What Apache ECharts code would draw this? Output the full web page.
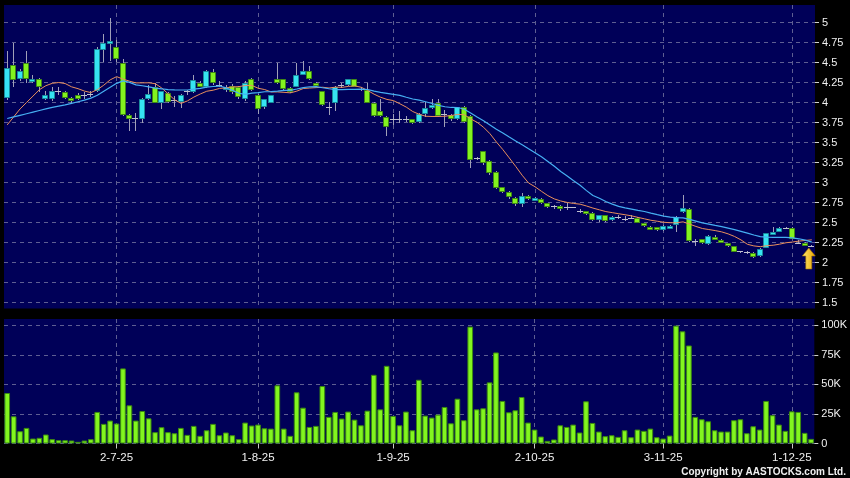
<!DOCTYPE html>
<html>
<head>
<meta charset="utf-8">
<script src="https://cdn.jsdelivr.net/npm/echarts@6/dist/echarts.min.js"></script>
<style>
html,body{margin:0;padding:0;background:#000;}
#chart{width:850px;height:478px;}
</style>
</head>
<body>
<div id="chart"></div>
<script>
const dates = [
"6-6-25","9-6-25","10-6-25","11-6-25","12-6-25","13-6-25","16-6-25","17-6-25","18-6-25","19-6-25","20-6-25","23-6-25","24-6-25","25-6-25","26-6-25","27-6-25","30-6-25",
"2-7-25","3-7-25","4-7-25","7-7-25","8-7-25","9-7-25","10-7-25","11-7-25","14-7-25","15-7-25","16-7-25","17-7-25","18-7-25","21-7-25","22-7-25","23-7-25","24-7-25","25-7-25","28-7-25","29-7-25","30-7-25","31-7-25",
"1-8-25","4-8-25","5-8-25","6-8-25","7-8-25","8-8-25","11-8-25","12-8-25","13-8-25","14-8-25","15-8-25","18-8-25","19-8-25","20-8-25","21-8-25","22-8-25","25-8-25","26-8-25","27-8-25","28-8-25","29-8-25",
"1-9-25","2-9-25","3-9-25","4-9-25","5-9-25","8-9-25","9-9-25","10-9-25","11-9-25","12-9-25","15-9-25","16-9-25","17-9-25","18-9-25","19-9-25","22-9-25","23-9-25","24-9-25","25-9-25","26-9-25","29-9-25","30-9-25",
"2-10-25","3-10-25","6-10-25","8-10-25","9-10-25","10-10-25","13-10-25","14-10-25","15-10-25","16-10-25","17-10-25","20-10-25","21-10-25","22-10-25","23-10-25","24-10-25","27-10-25","28-10-25","30-10-25","31-10-25",
"3-11-25","4-11-25","5-11-25","6-11-25","7-11-25","10-11-25","11-11-25","12-11-25","13-11-25","14-11-25","17-11-25","18-11-25","19-11-25","20-11-25","21-11-25","24-11-25","25-11-25","26-11-25","27-11-25","28-11-25",
"1-12-25","2-12-25","3-12-25","4-12-25"
];
const tickLabels = ["2-7-25","1-8-25","1-9-25","2-10-25","3-11-25","1-12-25"];
const priceTicks = [1.5,1.75,2,2.25,2.5,2.75,3,3.25,3.5,3.75,4,4.25,4.5,4.75,5];
const volumeTicks = [0,25,50,75,100];

const opens = [
4.06,4.47,4.30,4.50,4.26,4.30,4.05,4.04,4.15,4.13,
4.06,4.10,4.10,4.11,4.15,4.66,4.74,4.70,4.50,3.85,
3.81,3.80,4.04,4.20,4.00,4.12,4.03,4.01,4.15,4.13,
4.25,4.20,4.38,4.225,4.17,4.21,4.20,4.05,4.30,4.10,
3.94,4.00,4.30,4.29,4.18,4.20,4.35,4.395,4.25,4.14,
3.945,4.00,4.22,4.225,4.29,4.175,4.155,4.00,3.89,3.82,
3.80,3.80,3.80,3.79,3.76,3.86,3.93,4.00,3.86,3.84,
3.79,3.94,3.83,3.31,3.39,3.27,3.135,2.94,2.88,2.81,
2.73,2.83,2.79,2.80,2.74,2.71,2.71,2.70,2.69,2.64,
2.64,2.62,2.53,2.59,2.53,2.57,2.55,2.56,2.56,2.49,
2.45,2.44,2.41,2.43,2.47,2.63,2.67,2.27,2.29,2.23,
2.32,2.28,2.24,2.205,2.14,2.13,2.125,2.08,2.185,2.345,
2.385,2.43,2.435,2.25,2.25,2.21
];
const closes = [
4.43,4.28,4.40,4.30,4.30,4.20,4.10,4.15,4.15,4.06,
4.02,4.05,4.10,4.11,4.675,4.75,4.77,4.55,3.84,3.80,
3.81,4.05,4.11,4.00,4.14,4.01,4.03,4.10,4.15,4.28,
4.20,4.39,4.24,4.225,4.20,4.13,4.07,4.24,4.16,3.925,
4.04,4.09,4.245,4.175,4.13,4.35,4.395,4.30,4.21,3.975,
3.945,4.195,4.22,4.29,4.20,4.175,4.00,3.83,3.83,3.70,
3.80,3.80,3.80,3.74,3.855,3.93,3.97,3.83,3.86,3.79,
3.94,3.76,3.28,3.31,3.24,3.12,2.935,2.88,2.82,2.73,
2.835,2.79,2.81,2.74,2.70,2.71,2.675,2.70,2.69,2.64,
2.61,2.53,2.59,2.52,2.57,2.57,2.55,2.56,2.50,2.46,
2.43,2.41,2.46,2.46,2.57,2.68,2.27,2.27,2.24,2.33,
2.30,2.25,2.21,2.135,2.14,2.13,2.07,2.175,2.365,2.385,
2.43,2.43,2.30,2.25,2.22,2.21
];
const lows = [
4.03,4.20,4.27,4.24,4.24,4.13,4.03,4.02,4.09,4.04,
3.98,4.03,4.05,4.07,4.13,4.51,4.52,4.51,3.83,3.65,
3.65,3.74,4.03,3.99,3.92,3.99,3.95,3.93,4.10,4.12,
4.19,4.18,4.22,4.19,4.13,4.11,4.05,4.02,4.14,3.86,
3.92,3.99,4.23,4.16,4.12,4.19,4.34,4.28,4.20,3.96,
3.84,3.90,4.18,4.21,4.19,4.14,3.99,3.82,3.82,3.58,
3.72,3.75,3.76,3.73,3.75,3.82,3.92,3.82,3.70,3.77,
3.78,3.75,3.18,3.28,3.22,3.10,2.92,2.87,2.80,2.71,
2.70,2.78,2.78,2.73,2.68,2.67,2.64,2.66,2.68,2.62,
2.60,2.52,2.51,2.51,2.52,2.55,2.52,2.54,2.49,2.45,
2.42,2.40,2.40,2.42,2.385,2.62,2.26,2.21,2.23,2.22,
2.29,2.24,2.20,2.13,2.12,2.11,2.06,2.07,2.18,2.34,
2.38,2.42,2.29,2.24,2.21,2.20
];
const highs = [
4.64,4.75,4.42,4.65,4.34,4.31,4.15,4.20,4.19,4.15,
4.07,4.12,4.13,4.15,4.69,4.86,5.06,4.78,4.55,3.86,
3.87,4.06,4.22,4.24,4.15,4.13,4.08,4.11,4.16,4.34,
4.27,4.41,4.42,4.27,4.22,4.23,4.21,4.27,4.31,4.11,
4.05,4.10,4.50,4.30,4.19,4.49,4.52,4.46,4.26,4.15,
4.01,4.21,4.24,4.30,4.30,4.20,4.24,4.01,4.05,3.83,
3.86,3.90,3.83,3.80,3.87,4.01,4.04,4.04,3.91,3.86,
3.95,3.96,3.84,3.32,3.40,3.28,3.14,2.95,2.89,2.82,
2.87,2.85,2.82,2.81,2.75,2.72,2.72,2.74,2.70,2.67,
2.65,2.63,2.60,2.60,2.58,2.59,2.58,2.59,2.57,2.50,
2.46,2.45,2.47,2.47,2.58,2.84,2.68,2.30,2.30,2.34,
2.34,2.29,2.25,2.21,2.15,2.14,2.13,2.18,2.37,2.45,
2.44,2.44,2.44,2.28,2.26,2.22
];
const volumesK = [
42.7,23,10.4,13.2,4.2,4.8,7.6,3.7,2.8,2.8,
2.5,1.4,2.5,3.7,26.7,16.6,19.4,16.9,63.5,32.3,
19.4,27.5,21.3,9.6,13.8,9.6,8.7,13.2,7.3,14.9,
6.5,11.2,16.6,7.0,9.3,7.0,3.7,17.7,15.2,16.0,
12.9,12.6,49.2,12.6,6.5,43.3,30.3,14,14.9,48.6,
22.5,26.7,21.1,27,20.2,15.4,27.8,58.1,28.9,65.7,
23.3,15.4,27,11.2,53.9,23.6,21.9,24.4,30.9,17.1,
37.9,19.7,98.9,28.9,29.8,51.7,77,36,26.4,28.1,
39.3,17.7,11.8,5.9,2.2,3.4,15.4,14.0,16.0,9.3,
35.7,17.4,10.1,6.2,7.0,5.6,11.2,5.3,11.8,10.7,
12.6,5.3,4.2,6.7,99.7,94.9,82.9,22.5,20.5,18.8,
11.2,10.1,10.1,19.7,20.5,8.7,14.6,11.8,36.0,23.9,
16.0,10.7,27.2,26.7,9.0,3.9
];
const ma10Lead = [3.72,3.82,3.92,4.00,4.08,4.16,4.21,4.24,4.25];
const ma20Lead = [3.80,3.82,3.84,3.86,3.88,3.90,3.92,3.94,3.955,3.97,3.99,4.01,4.03,4.055,4.09,4.14,4.19,4.24,4.27];

function movingAverage(n, lead) {
  return closes.map((c, i) => {
    if (i < n - 1) return lead[i];
    let s = 0;
    for (let k = i - n + 1; k <= i; k++) s += closes[k];
    return +(s / n).toFixed(4);
  });
}
const ma10 = movingAverage(10, ma10Lead);
const ma20 = movingAverage(20, ma20Lead);

const C = {
  upFill: '#36e4f2', upStroke: '#1a8c9c',
  downFill: '#83f21f', downStroke: '#3f8a14',
  wick: '#a0a0b8', doji: '#c0c0d0',
  grid: '#5e5e92', text: '#f0f0f0', panel: '#000058'
};
const FONT = '"Liberation Sans", Arial, sans-serif';

function renderCandle(params, api) {
  const i = api.value(0);
  const o = api.value(1), c = api.value(2), l = api.value(3), h = api.value(4);
  const pO = api.coord([i, o]), pC = api.coord([i, c]);
  const pL = api.coord([i, l]), pH = api.coord([i, h]);
  const band = api.size([1, 0])[0];
  const w = Math.max(3, Math.round(band * 0.93));
  const xc = Math.floor(pO[0]);
  const x0 = xc - Math.floor(w / 2);
  const children = [{
    type: 'line',
    shape: {x1: xc + 0.5, y1: Math.round(pH[1]), x2: xc + 0.5, y2: Math.round(pL[1])},
    style: {stroke: C.wick, lineWidth: 1}
  }];
  if (o === c) {
    const y = Math.round(pO[1]) + 0.5;
    children.push({type: 'line', shape: {x1: x0, y1: y, x2: x0 + w, y2: y},
      style: {stroke: C.doji, lineWidth: 1}});
  } else {
    const up = c > o;
    const yTop = Math.round(Math.min(pO[1], pC[1]));
    const yBot = Math.round(Math.max(pO[1], pC[1]));
    children.push({type: 'rect',
      shape: {x: x0 + 0.5, y: yTop + 0.5, width: w - 1, height: Math.max(2, yBot - yTop - 1)},
      style: {fill: up ? C.upFill : C.downFill, stroke: up ? C.upStroke : C.downStroke, lineWidth: 1}});
  }
  return {type: 'group', children};
}

const chart = echarts.init(document.getElementById('chart'), null, {renderer: 'canvas'});
const splitFn = (idx) => tickLabels.indexOf(dates[idx]) >= 0;
const dashed = {show: true, interval: splitFn, alignWithLabel: true,
  lineStyle: {color: C.grid, type: [4, 4], width: 1}};

const option = {
  backgroundColor: '#000000',
  animation: false,
  grid: [
    {left: 4, right: 35, top: 5, height: 303.5, show: true, backgroundColor: C.panel, borderWidth: 0},
    {left: 4, right: 35, top: 319, height: 124.5, show: true, backgroundColor: C.panel, borderWidth: 0}
  ],
  xAxis: [
    {type: 'category', gridIndex: 0, data: dates, boundaryGap: true,
     axisLine: {show: false}, axisTick: {show: false}, axisLabel: {show: false},
     splitLine: dashed},
    {type: 'category', gridIndex: 1, data: dates, boundaryGap: true,
     axisLine: {show: false},
     axisTick: {show: true, interval: splitFn, alignWithLabel: true, length: 5,
       lineStyle: {color: '#c8c8c8'}},
     axisLabel: {show: true, interval: splitFn, color: C.text, fontSize: 11.5,
       fontFamily: FONT, margin: 8},
     splitLine: dashed}
  ],
  yAxis: [
    {type: 'value', gridIndex: 0, position: 'right', min: 1.425, max: 5.219,
     axisLine: {show: false},
     axisTick: {show: true, length: 4, customValues: priceTicks, lineStyle: {color: '#d0d0d0'}},
     axisLabel: {customValues: priceTicks, color: C.text, fontSize: 11, fontFamily: FONT, margin: 7},
     splitLine: {show: true, lineStyle: {color: C.grid, type: [4, 4], width: 1}}},
    {type: 'value', gridIndex: 1, position: 'right', min: 0, max: 105.3,
     axisLine: {show: false},
     axisTick: {show: true, length: 4, customValues: volumeTicks, lineStyle: {color: '#d0d0d0'}},
     axisLabel: {customValues: volumeTicks, color: C.text, fontSize: 11, fontFamily: FONT, margin: 7,
       formatter: v => v === 0 ? '0' : v + 'K'},
     splitLine: {show: true, lineStyle: {color: C.grid, type: [4, 4], width: 1}}}
  ],
  series: [
    {type: 'custom', name: 'price', xAxisIndex: 0, yAxisIndex: 0, z: 3,
     renderItem: renderCandle,
     encode: {x: 0, y: [1, 2, 3, 4]},
     data: dates.map((d, i) => [i, opens[i], closes[i], lows[i], highs[i]])},
    {type: 'line', name: 'MA10', xAxisIndex: 0, yAxisIndex: 0, z: 4, data: ma10,
     symbol: 'none', lineStyle: {color: '#e98f5c', width: 1}, silent: true,
     markPoint: {
       silent: true,
       symbol: 'path://M6.5,0 L13,8 L9.5,8 L9.5,21 L3.5,21 L3.5,8 L0,8 Z',
       symbolSize: [13, 21],
       symbolOffset: [-3, 12],
       label: {show: false},
       itemStyle: {
         color: new echarts.graphic.LinearGradient(0, 0, 1, 0, [
           {offset: 0, color: '#ffe870'}, {offset: 1, color: '#e8a400'}]),
         borderColor: '#a07000', borderWidth: 0.6},
       data: [{coord: [dates[dates.length - 1], lows[lows.length - 1]]}]
     }},
    {type: 'line', name: 'MA20', xAxisIndex: 0, yAxisIndex: 0, z: 4, data: ma20,
     symbol: 'none', lineStyle: {color: '#46aff2', width: 1.2}, silent: true},
    {type: 'bar', name: 'volume', xAxisIndex: 1, yAxisIndex: 1, data: volumesK,
     barCategoryGap: '12%',
     itemStyle: {color: '#82f51f', borderColor: '#3b8a10', borderWidth: 1}}
  ],
  graphic: [
    {type: 'text', right: 4, bottom: 1,
     style: {text: 'Copyright by AASTOCKS.com Ltd.', fill: '#f0f0f0',
       font: 'bold 10px "Liberation Sans", Arial, sans-serif'}}
  ]
};
chart.setOption(option);
</script>
</body>
</html>
